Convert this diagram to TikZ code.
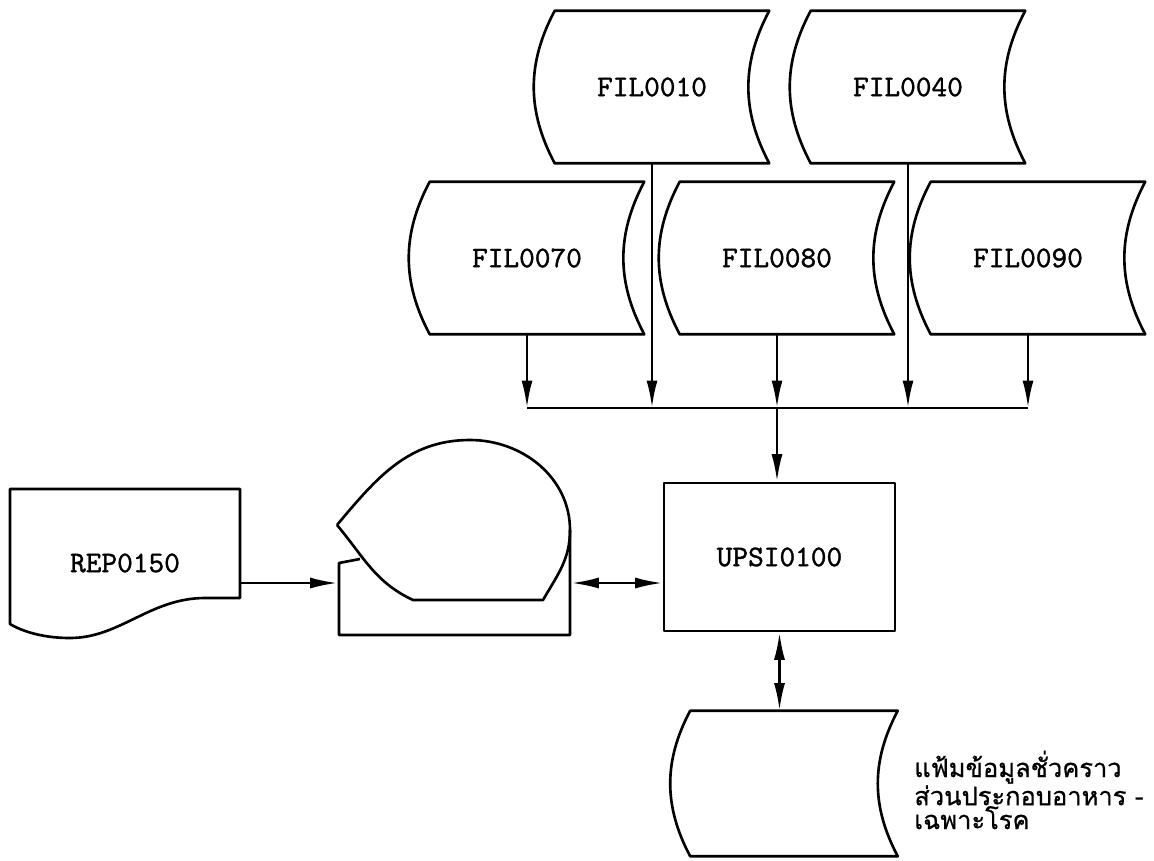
\documentclass[tikz,border=0pt]{standalone}
\usepackage{fontspec}
\newfontfamily\typefont[FakeBold=1.2]{lmmono10-regular.otf}
\newfontfamily\thaifont[Script=Thai,FakeBold=0.8]{Loma}
\usetikzlibrary{arrows.meta,calc}

\tikzset{
  filebox/.style={minimum width=4.64cm, minimum height=3cm, inner sep=0pt,
    font=\typefont\fontsize{17}{20}\selectfont},
  procbox/.style={draw, minimum width=4.62cm, minimum height=2.96cm, inner sep=0pt,
    font=\typefont\fontsize{17}{20}\selectfont},
  flow/.style={-{Latex[length=5.5mm,width=2.2mm]}},
  dflow/.style={{Latex[length=5.5mm,width=2.2mm]}-{Latex[length=5.5mm,width=2.2mm]}},
}

\begin{document}
\begin{tikzpicture}[x=0.02cm, y=-0.02cm, line width=1.5pt, line join=round]
\useasboundingbox (0,0) rectangle (1154,860);

% files
\node[filebox] (f10) at (652,87) {FIL0010};
\node[filebox] (f40) at (908,87) {FIL0040};
\node[filebox] (f70) at (527,258) {FIL0070};
\node[filebox] (f80) at (777,258) {FIL0080};
\node[filebox] (f90) at (1028,258) {FIL0090};
\node[filebox, minimum width=4.5cm, minimum height=2.86cm] (tmp) at (784,783.5) {};
\foreach \f in {f10,f40,f70,f80,f90,tmp}
  \draw ([xshift=4mm]\f.north west) to[bend right=28] ([xshift=4mm]\f.south west)
    -- (\f.south east) to[bend left=28] (\f.north east) -- cycle;

% program
\node[procbox] (upsi) at (779.5,557) {UPSI0100};

% report
\node[filebox, minimum width=4.6cm, minimum height=2.96cm] (rep) at (125,563) {REP0150};
\draw (10,489) -- (240,489) -- (240,598) -- (205,598)
  .. controls (150,598) and (120,638) .. (70,638)
  .. controls (40,638) and (20,630) .. (10,624) -- cycle;

% display
\node[minimum width=4.62cm, minimum height=2.08cm, inner sep=0pt] (disp) at (454.5,583) {};
\draw (337,525) to[out=50,in=180] (470,440) to[out=0,in=90] (570,530)
  to[out=-90,in=60] (543,600) -- (413,600) to[out=155,in=-50] (337,525);
\draw (360,559) -- (339,563) -- (339,635) -- (570,635) -- (570,530);

% connectors
\coordinate (bus) at (777,408);
\foreach \f in {f70,f10,f80,f40,f90}
  \draw[flow] (\f.south) -- (\f.south |- bus);
\draw (f70.south |- bus) -- (f90.south |- bus);
\draw[flow] (bus) -- (bus |- upsi.north);
\draw[flow] (rep.east |- disp.west) -- (disp.west);
\draw[dflow] (disp.east) -- (disp.east -| upsi.west);
\draw[dflow] (upsi.south) -- (upsi.south |- tmp.north);

\node[font=\thaifont\fontsize{14.5}{13.6}\selectfont, align=left, anchor=west, inner sep=0pt]
  (note) at (913,790) {แฟ้มข้อมูลชั่วคราว\\ส่วนประกอบอาหาร -\\เฉพาะโรค};
\end{tikzpicture}
\end{document}
